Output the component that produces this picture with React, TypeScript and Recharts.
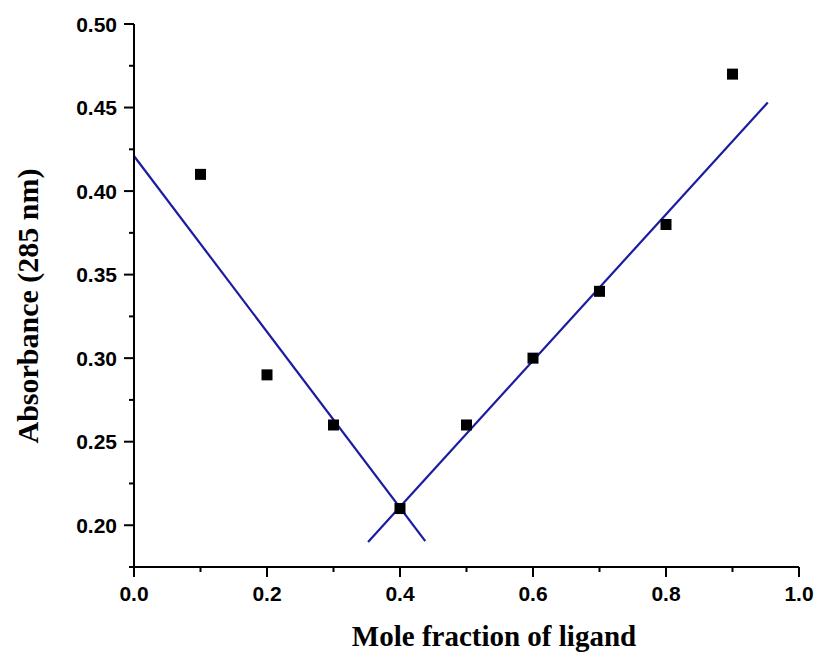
import React from "react";
import {
  ScatterChart,
  Scatter,
  XAxis,
  YAxis,
  ReferenceLine,
} from "recharts";

// measured points (mole fraction vs absorbance at 285 nm)
const moleFraction = [0.1, 0.2, 0.3, 0.4, 0.5, 0.6, 0.7, 0.8, 0.9];
const absorbance = [0.41, 0.29, 0.26, 0.21, 0.26, 0.3, 0.34, 0.38, 0.47];

// two straight fits crossing near x = 0.4
const leftFitX = [0, 0.438];
const leftFitY = [0.421, 0.1905];
const rightFitX = [0.352, 0.953];
const rightFitY = [0.19, 0.453];

const xTicks = [0, 0.1, 0.2, 0.3, 0.4, 0.5, 0.6, 0.7, 0.8, 0.9, 1.0];
const yTicks = [
  0.175, 0.2, 0.225, 0.25, 0.275, 0.3, 0.325, 0.35, 0.375, 0.4, 0.425, 0.45,
  0.475, 0.5,
];

const points = moleFraction.map((x, i) => ({ x, y: absorbance[i] }));

const LINE_COLOR = "#1c1ca0";
const TICK_FONT = "'Liberation Sans', Arial, sans-serif";
const TITLE_FONT = "'Liberation Serif', 'Times New Roman', serif";

const XTick = (props: any) => {
  const { x, y, payload } = props;
  const major = Math.round(payload.value * 10) % 2 === 0;
  return (
    <g>
      <line x1={x} y1={y} x2={x} y2={y + (major ? 10 : 5)} stroke="#000" strokeWidth={2} />
      {major && (
        <text
          x={x}
          y={y + 34}
          textAnchor="middle"
          fontFamily={TICK_FONT}
          fontWeight="bold"
          fontSize={21}
          fill="#000"
        >
          {payload.value.toFixed(1)}
        </text>
      )}
    </g>
  );
};

const YTick = (props: any) => {
  const { x, y, payload } = props;
  const major = Math.round(payload.value * 1000) % 50 === 0;
  return (
    <g>
      <line x1={x} y1={y} x2={x - (major ? 10 : 5)} y2={y} stroke="#000" strokeWidth={2} />
      {major && (
        <text
          x={x - 17}
          y={y + 7.5}
          textAnchor="end"
          fontFamily={TICK_FONT}
          fontWeight="bold"
          fontSize={21}
          fill="#000"
        >
          {payload.value.toFixed(2)}
        </text>
      )}
    </g>
  );
};

const SquareDot = (props: any) => {
  const { cx, cy } = props;
  return <rect x={cx - 5.5} y={cy - 5.5} width={11} height={11} fill="#000" />;
};

const XTitle = (props: any) => {
  const { viewBox } = props;
  return (
    <text
      x={viewBox.x + 360}
      y={viewBox.y + 79}
      textAnchor="middle"
      fontFamily={TITLE_FONT}
      fontWeight="bold"
      fontSize={29}
      fill="#000"
    >
      Mole fraction of ligand
    </text>
  );
};

const YTitle = (props: any) => {
  const { viewBox } = props;
  const cx = viewBox.x + 38;
  const cy = 306;
  return (
    <text
      x={cx}
      y={cy}
      transform={`rotate(-90, ${cx}, ${cy})`}
      textAnchor="middle"
      fontFamily={TITLE_FONT}
      fontWeight="bold"
      fontSize={30}
      fill="#000"
    >
      Absorbance (285 nm)
    </text>
  );
};

export default function App() {
  return (
    <div style={{ position: "absolute", left: 0, top: 0, width: 817, height: 654, background: "#fff" }}>
      <ScatterChart width={817} height={654} margin={{ top: 24, right: 18, bottom: 0, left: 0 }}>
        <XAxis
          type="number"
          dataKey="x"
          domain={[0, 1]}
          ticks={xTicks}
          interval={0}
          height={87}
          tickSize={0}
          tickMargin={0}
          tickLine={false}
          tick={<XTick />}
          axisLine={{ stroke: "#000", strokeWidth: 2 }}
          allowDataOverflow
          label={<XTitle />}
        />
        <YAxis
          type="number"
          dataKey="y"
          domain={[0.175, 0.5]}
          ticks={yTicks}
          interval={0}
          width={134}
          tickSize={0}
          tickMargin={0}
          tickLine={false}
          tick={<YTick />}
          axisLine={{ stroke: "#000", strokeWidth: 2 }}
          allowDataOverflow
          label={<YTitle />}
        />
        <Scatter data={points} shape={<SquareDot />} isAnimationActive={false} />
        <ReferenceLine
          segment={[
            { x: leftFitX[0], y: leftFitY[0] },
            { x: leftFitX[1], y: leftFitY[1] },
          ]}
          stroke={LINE_COLOR}
          strokeWidth={2.2}
          ifOverflow="visible"
        />
        <ReferenceLine
          segment={[
            { x: rightFitX[0], y: rightFitY[0] },
            { x: rightFitX[1], y: rightFitY[1] },
          ]}
          stroke={LINE_COLOR}
          strokeWidth={2.2}
          ifOverflow="visible"
        />
      </ScatterChart>
    </div>
  );
}
